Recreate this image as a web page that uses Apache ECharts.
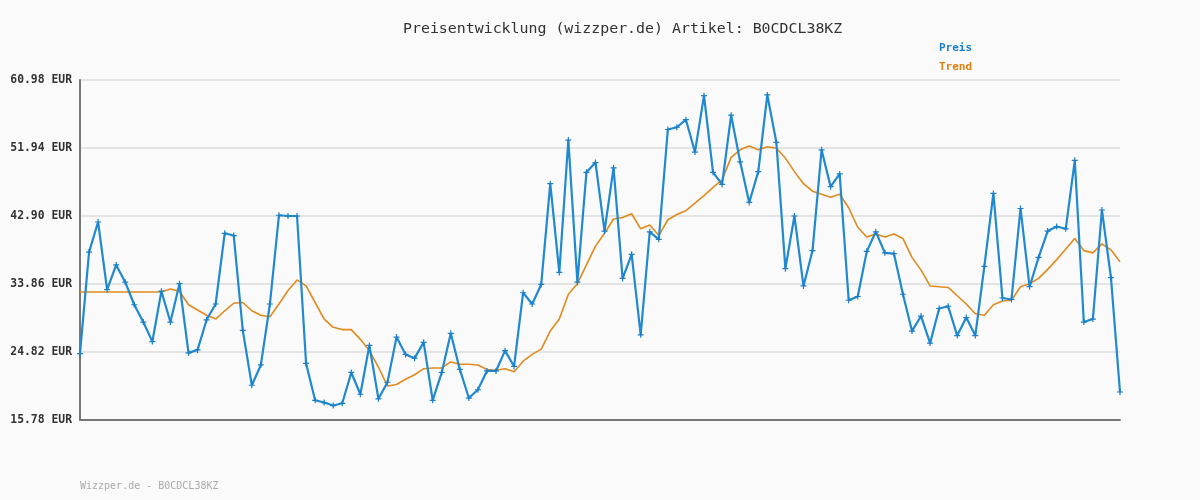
<!DOCTYPE html>
<html>
<head>
<meta charset="utf-8">
<title>Preisentwicklung</title>
<script src="https://cdn.jsdelivr.net/npm/echarts@6/dist/echarts.min.js"></script>
<style>
    html, body { margin: 0; padding: 0; background: #fafafa; }
    #main { width: 1200px; height: 500px; }
</style>
</head>
<body>
<div id="main"></div>
<script>
// Daten
var preis = [
    24.6, 38.1, 42.1, 33.1, 36.4, 34.1, 31.1, 28.8, 26.2, 32.9,
    28.8, 33.9, 24.7, 25.1, 29.1, 31.2, 40.6, 40.3, 27.7, 20.4,
    23.1, 31.2, 43.0, 42.9, 42.9, 23.3, 18.4, 18.1, 17.7, 18.0,
    22.1, 19.2, 25.7, 18.6, 20.8, 26.8, 24.5, 24.0, 26.1, 18.4,
    22.1, 27.3, 22.5, 18.7, 19.8, 22.3, 22.3, 25.0, 22.9, 32.7,
    31.2, 33.8, 47.2, 35.4, 53.0, 34.1, 48.7, 50.0, 40.9, 49.3,
    34.6, 37.8, 27.1, 40.8, 39.8, 54.4, 54.7, 55.7, 51.4, 58.9,
    48.7, 47.1, 56.3, 50.1, 44.7, 48.8, 59.0, 52.7, 35.9, 42.9,
    33.6, 38.3, 51.7, 46.8, 48.5, 31.7, 32.2, 38.2, 40.8, 38.0,
    37.9, 32.5, 27.6, 29.6, 26.0, 30.6, 30.9, 27.0, 29.4, 27.0,
    36.2, 45.9, 32.0, 31.8, 43.9, 33.5, 37.4, 40.9, 41.5, 41.2,
    50.3, 28.8, 29.2, 43.7, 34.7, 19.5
];
var trend = [
    32.8, 32.8, 32.8, 32.8, 32.8, 32.8, 32.8, 32.8, 32.8, 32.8,
    33.2, 32.9, 31.1, 30.4, 29.7, 29.2, 30.3, 31.3, 31.4, 30.3,
    29.7, 29.5, 31.2, 33.0, 34.4, 33.6, 31.4, 29.2, 28.1, 27.8,
    27.8, 26.5, 25.0, 22.8, 20.3, 20.5, 21.2, 21.8, 22.6, 22.7,
    22.7, 23.5, 23.2, 23.2, 23.1, 22.5, 22.4, 22.6, 22.2, 23.6,
    24.5, 25.2, 27.6, 29.2, 32.5, 33.9, 36.4, 38.9, 40.6, 42.5,
    42.7, 43.2, 41.2, 41.7, 40.3, 42.4, 43.1, 43.6, 44.6, 45.6,
    46.7, 47.7, 50.7, 51.7, 52.2, 51.7, 52.1, 51.9, 50.6, 48.8,
    47.2, 46.2, 45.8, 45.4, 45.8, 44.0, 41.4, 40.1, 40.5, 40.1,
    40.5, 39.9, 37.4, 35.7, 33.6, 33.5, 33.4, 32.3, 31.2, 29.9,
    29.7, 31.1, 31.6, 31.7, 33.5, 33.9, 34.6, 35.8, 37.1, 38.5,
    39.9, 38.3, 38.0, 39.2, 38.4, 36.8
];
var yTicks = [15.78, 24.82, 33.86, 42.90, 51.94, 60.98];
var tage = preis.map(function(v, i) { return String(i + 1); });

(function() {
    var myChart = echarts.init(document.querySelector("#main"));
    var mono = '"DejaVu Sans Mono", monospace';
    var option = {
        backgroundColor: '#fafafa',
        animation: false,
        title: [{
            text: 'Preisentwicklung (wizzper.de) Artikel: B0CDCL38KZ',
            left: 398,
            top: 17,
            textStyle: {
                fontFamily: mono,
                fontSize: 14.9,
                fontWeight: 'normal',
                color: '#333'
            }
        }, {
            text: 'Wizzper.de - B0CDCL38KZ',
            left: 75,
            top: 476,
            textStyle: {
                fontFamily: mono,
                fontSize: 10,
                fontWeight: 'normal',
                color: '#aaaaaa'
            }
        }],
        legend: {
            orient: 'vertical',
            left: 929,
            top: 37,
            itemGap: 8,
            icon: 'none',
            itemWidth: 0,
            itemHeight: 12,
            textStyle: {
                fontFamily: mono,
                fontSize: 11,
                fontWeight: 'bold'
            },
            data: [
                { name: 'Preis', textStyle: { color: '#1a7fc8' } },
                { name: 'Trend', textStyle: { color: '#de7f0e' } }
            ]
        },
        grid: {
            left: 80,
            right: 80,
            top: 80,
            bottom: 80
        },
        xAxis: {
            type: 'category',
            boundaryGap: false,
            data: tage,
            axisTick: { show: false },
            axisLabel: { show: false },
            axisLine: {
                lineStyle: { color: '#777', width: 2 }
            },
            splitLine: { show: false }
        },
        yAxis: {
            type: 'value',
            min: yTicks[0],
            max: yTicks[yTicks.length - 1],
            axisLine: {
                show: true,
                lineStyle: { color: '#777', width: 2 }
            },
            axisTick: {
                show: false,
                customValues: yTicks
            },
            axisLabel: {
                customValues: yTicks,
                margin: 8,
                color: '#333',
                fontFamily: mono,
                fontSize: 11.4,
                fontWeight: 'bold',
                formatter: function(v) {
                    return v.toFixed(2) + ' EUR';
                }
            },
            splitLine: {
                show: true,
                lineStyle: { color: '#e4e4e4', width: 2 }
            }
        },
        series: [{
            name: 'Preis',
            type: 'line',
            data: preis,
            symbol: 'path://M2,0H3V2H5V3H3V5H2V3H0V2H2Z',
            symbolSize: 6,
            showAllSymbol: true,
            itemStyle: { color: '#1a7fc8' },
            lineStyle: { color: '#2089cf', width: 2.2 },
            z: 3
        }, {
            name: 'Trend',
            type: 'line',
            data: trend,
            symbol: 'none',
            itemStyle: { color: '#de7f0e' },
            lineStyle: { color: '#e08a1e', width: 1.6 },
            z: 2
        }]
    };
    myChart.setOption(option);
    window.addEventListener("resize", function() {
        myChart.resize();
    });
})();
</script>
</body>
</html>
